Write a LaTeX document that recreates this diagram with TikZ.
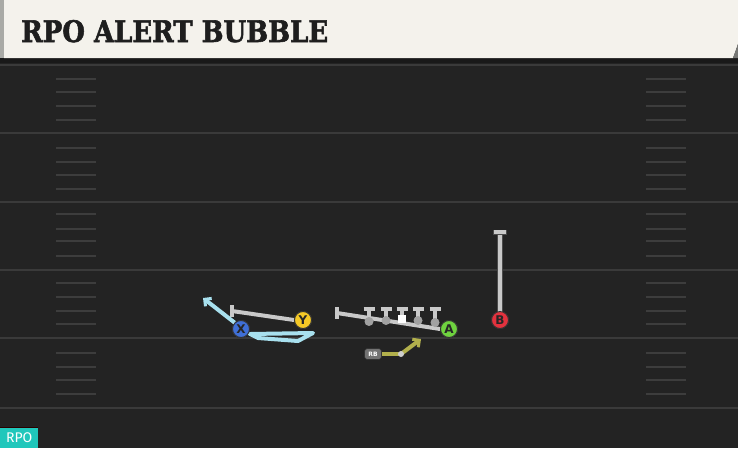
\documentclass[tikz,border=0pt]{standalone}
\usepackage{fontspec}
\usetikzlibrary{arrows.meta}
\newfontfamily\titlefont[FakeBold=2]{DejaVu Serif Bold}
\newfontfamily\lblfont{DejaVu Sans Bold}
\newfontfamily\tagfont{Fira Sans}
\definecolor{bgc}{HTML}{232323}
\definecolor{hdr}{HTML}{F4F2EC}
\definecolor{hdrstrip}{HTML}{A9AAA6}
\definecolor{ttl}{HTML}{1E1E1E}
\definecolor{yardc}{HTML}{3A3A3A}
\definecolor{hashc}{HTML}{3D3D3D}
\definecolor{routeg}{HTML}{C9C9C9}
\definecolor{routeb}{HTML}{A8E0EE}
\definecolor{routeo}{HTML}{B2B04C}
\definecolor{pyel}{HTML}{F5C926}
\definecolor{pblue}{HTML}{3F6FD6}
\definecolor{pgreen}{HTML}{6FD23F}
\definecolor{pred}{HTML}{E3323E}
\definecolor{teal}{HTML}{20C7BB}
\tikzset{
  yard/.style={draw=yardc, line width=2pt},
  hashm/.style={draw=hashc, line width=2pt},
  player/.style={circle, minimum size=17pt, inner sep=0pt, draw=black!80, line width=0.9pt, font=\lblfont\fontsize{12}{12}\selectfont, text=black!85},
  greyroute/.style={draw=routeg, line width=4pt},
  tbar/.style={draw=routeg, line width=3.4pt},
  blueroute/.style={draw=routeb, line width=4pt, line join=round, line cap=round},
  oliveroute/.style={draw=routeo, line width=4pt, line join=round},
  chev/.style={-{Straight Barb[length=5pt,width=10pt,line width=3pt]}},
  lineman/.style={circle, fill=routeg!80!black, minimum size=9pt, inner sep=0pt},
}
\begin{document}
\begin{tikzpicture}[x=1pt,y=-1pt]
\useasboundingbox (0,0) rectangle (738,448);
\fill[bgc] (0,0) rectangle (738,448);
% header
\fill[black!90] (0,57) rectangle (738,63);
\fill[hdr] (4,0) -- (738,0) -- (738,44) -- (733,58) -- (4,58) -- cycle;
\fill[hdrstrip] (0,0) rectangle (4,58);
\fill[hdrstrip!70!black] (738,44) -- (738,58) -- (733,58) -- cycle;
\node[anchor=base west, inner sep=0pt, text=ttl] (title) at (21,42) {\resizebox{307pt}{22pt}{\titlefont RPO ALERT BUBBLE}};
% yard lines
\draw[yard] (0,64.5) -- (738,64.5);
\foreach \yy in {133,202,270,338,408} {\draw[yard] (0,\yy) -- (738,\yy);}
% hash marks
\foreach \yy in {79,92,106,120,148,162,175,189,214,229,241,256,283,297,311,324,353,367,380,394} {
  \draw[hashm] (56,\yy) -- (96,\yy);
  \draw[hashm] (646,\yy) -- (686,\yy);
}
% players
\node[player, fill=pyel] (Y) at (303,320) {Y};
\node[player, fill=pblue] (X) at (241,329) {X};
\node[player, fill=pgreen] (A) at (449,329) {A};
\node[rounded corners=3pt, fill=black!55, draw=black!80, line width=0.6pt, minimum width=17pt, minimum height=11pt, inner sep=0pt, text=white!90, font=\lblfont\fontsize{6}{6}\selectfont] (RB) at (373,354) {RB};
% Y block route
\coordinate (ybl) at (232,311);
\draw[greyroute] (Y.west) -- (ybl);
\draw[tbar] (232,305) -- (232,317);
\node[player, fill=pyel] at (Y) {Y};
% X routes
\coordinate (xarr) at (203,298);
\coordinate (b1) at (313,333);
\coordinate (b2) at (298,341);
\coordinate (b3) at (258,338);
\coordinate (b4) at (250,334);
\draw[blueroute] (b4) -- (b1) -- (b2) -- (b3) -- (b4);
\draw[blueroute, line cap=butt, chev] (X.north west) -- (xarr);
\node[player, fill=pblue] at (X) {X};
% offensive line
\coordinate (olL) at (337,313);
\draw[greyroute] (olL) -- (A.west);
\draw[tbar] (337,307) -- (337,319);
\foreach \xx/\yb in {369/317.5,386/319.5,402/321.5,418/323.5,435/325.5} {
  \draw[tbar] (\xx-5.5,309) -- (\xx+5.5,309);
  \draw[tbar] (\xx,309) -- (\xx,\yb);
}
\node[lineman] (l1) at (369,321.5) {};
\node[lineman] (l2) at (386,320.5) {};
\node[fill=white, minimum size=8pt, inner sep=0pt] (c) at (402,318.5) {};
\node[lineman] (l4) at (418,320.5) {};
\node[lineman] (l5) at (435,322.5) {};
\node[player, fill=pgreen] at (A) {A};
% RB route
\coordinate (rbk) at (401,354);
\coordinate (rbe) at (421,339);
\draw[oliveroute] (RB.east) -- (rbk);
\draw[oliveroute, chev] (rbk) -- (rbe);
\node[circle, fill=routeg!90, minimum size=6pt, inner sep=0pt] (rbdot) at (rbk) {};
% B route
\node[player, fill=pred] (B) at (500,320) {};
\coordinate (btop) at (500,232);
\draw[draw=black!70, line width=5.6pt] (B.center) -- (btop);
\draw[greyroute] (B.center) -- (btop);
\draw[draw=black!70, line width=5pt] (493,232) -- (507,232);
\draw[tbar] (494,232) -- (506,232);
\node[player, fill=pred] at (B) {B};
% RPO tag
\fill[black!60!red!40!black] (0,427) rectangle (38,428);
\node[fill=teal, anchor=south west, minimum width=38pt, minimum height=20pt, inner sep=0pt, text=white, font=\tagfont\fontsize{14}{14}\selectfont] (tag) at (0,448) {RPO};
\end{tikzpicture}
\end{document}
